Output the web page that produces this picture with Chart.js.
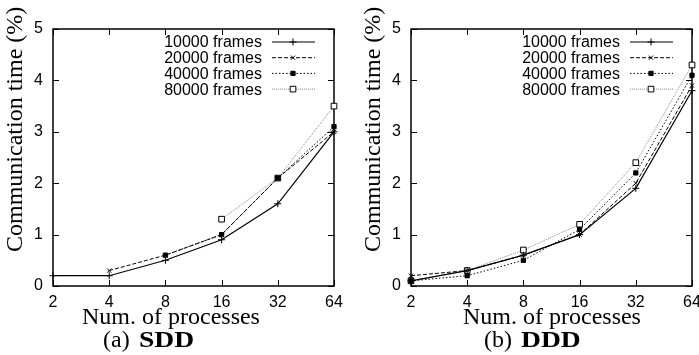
<!DOCTYPE html>
<html>
<head>
<meta charset="utf-8">
<script src="https://cdn.jsdelivr.net/npm/chart.js@4.4.0/dist/chart.umd.min.js"></script>
<style>
html, body { margin: 0; padding: 0; background: #fff; overflow: hidden; width: 699px; height: 355px; position: relative; }
canvas { position: absolute; top: 0; }
.txt { position: absolute; font-family: 'Liberation Serif', serif; font-size: 24px; color: #000; white-space: nowrap; line-height: 1; }
.ytitle { transform-origin: left top; transform: rotate(-90deg); }
.wide { font-weight: bold; transform-origin: left top; transform: scaleX(1.15); }
</style>
</head>
<body>
<canvas id="sdd" width="350" height="340" style="left:0"></canvas>
<canvas id="ddd" width="350" height="340" style="left:358px"></canvas>

<div class="txt ytitle" style="left:2px;top:252px">Communication time (%)</div>
<div class="txt ytitle" style="left:360px;top:252px">Communication time (%)</div>
<div class="txt" style="left:82px;top:304px">Num. of processes</div>
<div class="txt" style="left:463px;top:304px">Num. of processes</div>
<div class="txt" style="left:103px;top:327px">(a)</div>
<div class="txt wide" style="left:139px;top:327px">SDD</div>
<div class="txt" style="left:484px;top:327px">(b)</div>
<div class="txt wide" style="left:521px;top:327px">DDD</div>

<script>
const processes = ['2', '4', '8', '16', '32', '64']
const seriesLabels = ['10000 frames', '20000 frames', '40000 frames', '80000 frames']

// SDD: communication time (%)
const sdd10000 = [0.2, 0.2, 0.5, 0.9, 1.6, 3.0]
const sdd20000 = [null, 0.3, 0.6, 1.0, 2.1, 3.0]
const sdd40000 = [null, null, 0.6, 1.0, 2.1, 3.1]
const sdd80000 = [null, null, null, 1.3, 2.1, 3.5]

// DDD: communication time (%)
const ddd10000 = [0.1, 0.3, 0.6, 1.0, 1.9, 3.8]
const ddd20000 = [0.2, 0.3, 0.6, 1.0, 2.0, 3.9]
const ddd40000 = [0.1, 0.2, 0.5, 1.1, 2.2, 4.1]
const ddd80000 = [0.1, 0.3, 0.7, 1.2, 2.4, 4.3]

const styles = [
    { borderColor: '#000', borderWidth: 1.2, borderDash: [], pointStyle: 'cross', pointRadius: 3.5, pointBackgroundColor: '#000' },
    { borderColor: '#000', borderWidth: 1, borderDash: [4, 2], pointStyle: 'crossRot', pointRadius: 3, pointBackgroundColor: '#000' },
    { borderColor: '#000', borderWidth: 1, borderDash: [1.5, 2], pointStyle: 'rect', pointRadius: 3, pointBackgroundColor: '#000' },
    { borderColor: '#888', borderWidth: 1, borderDash: [1, 1], pointStyle: 'rect', pointRadius: 4, pointBackgroundColor: '#fff' }
]

const sansFont = { family: 'Liberation Sans', size: 16 }

const framePlugin = {
    id: 'frame',
    beforeDatasetsDraw(chart) {
        const { ctx, chartArea: a, scales: { x, y } } = chart
        ctx.save()
        ctx.strokeStyle = '#000'
        ctx.lineWidth = 1
        ctx.beginPath()
        x.ticks.forEach((t, i) => {
            const px = Math.round(x.getPixelForTick(i)) + 0.5
            ctx.moveTo(px, a.bottom); ctx.lineTo(px, a.bottom - 6)
            ctx.moveTo(px, a.top); ctx.lineTo(px, a.top + 6)
        })
        y.ticks.forEach((t, i) => {
            const py = Math.round(y.getPixelForTick(i)) + 0.5
            ctx.moveTo(a.left, py); ctx.lineTo(a.left + 6, py)
            ctx.moveTo(a.right, py); ctx.lineTo(a.right - 6, py)
        })
        ctx.stroke()
        ctx.lineWidth = 1.5
        ctx.strokeRect(a.left, a.top, a.right - a.left, a.bottom - a.top)
        ctx.restore()
    }
}

const legendPlugin = {
    id: 'innerLegend',
    afterDraw(chart) {
        const { ctx, chartArea: a } = chart
        ctx.save()
        ctx.font = '16px "Liberation Sans"'
        ctx.textAlign = 'right'
        ctx.textBaseline = 'middle'
        chart.data.datasets.forEach((ds, i) => {
            const yy = a.top + 13 + i * 15.7
            ctx.fillStyle = '#000'
            ctx.fillText(ds.label, a.right - 72, yy + 1)
            ctx.strokeStyle = ds.borderColor
            ctx.lineWidth = ds.borderWidth
            ctx.setLineDash(ds.borderDash)
            ctx.beginPath()
            ctx.moveTo(a.right - 62, yy)
            ctx.lineTo(a.right - 19, yy)
            ctx.stroke()
            ctx.setLineDash([])
            ctx.fillStyle = ds.pointBackgroundColor
            ctx.strokeStyle = '#000'
            ctx.lineWidth = 1
            Chart.helpers.drawPoint(ctx, { pointStyle: ds.pointStyle, radius: ds.pointRadius, borderWidth: 1 }, a.right - 41, yy)
        })
        ctx.restore()
    }
}

function makeChart(el, series) {
    return new Chart(el, {
        type: 'line',
        data: {
            labels: processes,
            datasets: series.map((data, i) => ({
                label: seriesLabels[i],
                data: data,
                fill: false,
                tension: 0,
                clip: false,
                pointBorderColor: '#000',
                pointBorderWidth: 1,
                ...styles[i]
            }))
        },
        options: {
            responsive: false,
            animation: false,
            devicePixelRatio: 1,
            layout: { padding: { top: 29, right: 16, left: 0, bottom: 0 } },
            plugins: { legend: { display: false }, tooltip: { enabled: false } },
            scales: {
                x: {
                    type: 'category',
                    offset: false,
                    grid: { display: false, drawTicks: false },
                    border: { display: false },
                    ticks: { color: '#000', font: sansFont, padding: 7, maxRotation: 0, autoSkip: false },
                    afterFit: s => { s.height = 54 }
                },
                y: {
                    min: 0,
                    max: 5,
                    grid: { display: false, drawTicks: false },
                    border: { display: false },
                    ticks: { color: '#000', font: sansFont, padding: 10, stepSize: 1 },
                    afterFit: s => { s.width = 53 }
                }
            }
        },
        plugins: [framePlugin, legendPlugin]
    })
}

makeChart(document.getElementById('sdd'), [sdd10000, sdd20000, sdd40000, sdd80000])
makeChart(document.getElementById('ddd'), [ddd10000, ddd20000, ddd40000, ddd80000])
</script>
</body>
</html>
